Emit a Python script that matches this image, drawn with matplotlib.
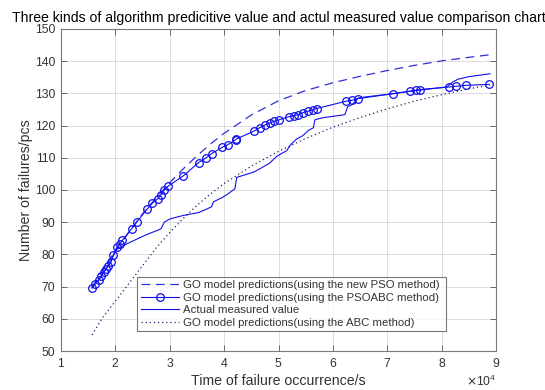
import matplotlib
matplotlib.use("Agg")
import matplotlib.pyplot as plt
import numpy as np
from matplotlib.ticker import ScalarFormatter

plt.rcParams['font.family'] = ['Liberation Sans', 'DejaVu Sans']

title = "Three kinds of algorithm predicitive value and actul measured value comparison chart"
xlabel = "Time of failure occurrence/s"
ylabel = "Number of failures/pcs"
legend_labels = [
    "GO model predictions(using the new PSO method)",
    "GO model predictions(using the PSOABC method)",
    "Actual measured value",
    "GO model predictions(using the ABC method)",
]

# times in units of 1e4 s
pso_t = [1.57, 2.00, 2.50, 2.75, 3.00, 3.25, 3.50, 3.75, 4.00, 4.50, 5.00, 5.50,
         6.00, 6.50, 7.00, 7.50, 8.00, 8.50, 8.89]
pso_v = [69.8, 81.2, 92.6, 97.6, 102.3, 106.6, 110.6, 114.3, 117.6, 123.3, 127.7, 130.9,
         133.3, 135.3, 137.1, 138.7, 140.1, 141.2, 142.0]

psoabc_t = [1.57, 1.62, 1.70, 1.74, 1.79, 1.83, 1.87, 1.92, 1.96, 2.03, 2.08, 2.13,
            2.30, 2.40, 2.58, 2.68, 2.78, 2.84, 2.90, 2.97, 3.25, 3.53, 3.67, 3.77,
            3.97, 4.07, 4.21, 4.22, 4.55, 4.66, 4.75, 4.84, 4.92, 5.01, 5.20, 5.28,
            5.36, 5.45, 5.55, 5.64, 5.70, 6.25, 6.36, 6.47, 7.10, 7.42, 7.53, 7.60,
            8.14, 8.26, 8.44, 8.87]
psoabc_v = [69.6, 70.8, 72.2, 73.3, 74.6, 75.5, 76.5, 77.5, 79.8, 82.2, 83.3, 84.4,
            88.0, 90.2, 94.0, 95.9, 97.3, 98.6, 100.0, 101.2, 104.4, 108.5, 110.0, 111.3,
            113.3, 114.1, 115.6, 115.8, 118.3, 119.4, 120.2, 120.8, 121.3, 121.8, 122.8, 123.1,
            123.4, 124.0, 124.5, 125.0, 125.3, 127.6, 127.9, 128.4, 129.9, 130.7, 131.0, 131.2,
            132.0, 132.2, 132.5, 132.8]

actual_t = [1.57, 1.70, 1.83, 1.96, 2.03, 2.13, 2.30, 2.58, 2.78, 2.84, 2.90, 3.00,
            3.25, 3.53, 3.67, 3.77, 3.80, 3.97, 4.07, 4.20, 4.23, 4.40, 4.55, 4.66,
            4.84, 4.97, 5.15, 5.22, 5.33, 5.45, 5.55, 5.64, 5.67, 5.80, 6.22, 6.27,
            6.36, 6.47, 6.60, 7.10, 7.53, 8.10, 8.20, 8.30, 8.50, 8.89]
actual_v = [69.6, 72.2, 75.5, 79.5, 81.6, 82.6, 84.0, 86.2, 87.5, 88.0, 90.0, 91.0,
            92.1, 93.0, 94.0, 94.8, 96.3, 97.7, 98.8, 100.4, 103.9, 104.8, 105.6, 106.6,
            108.4, 110.5, 112.2, 114.0, 115.8, 116.9, 118.5, 119.3, 121.8, 122.4, 123.4, 125.8,
            126.6, 128.6, 128.9, 129.9, 130.9, 132.0, 133.5, 134.4, 135.2, 136.1]

abc_t = [1.57, 1.75, 2.00, 2.25, 2.50, 2.75, 3.00, 3.25, 3.50, 3.75, 4.00, 4.50,
         5.00, 5.50, 6.00, 6.50, 7.00, 7.50, 8.00, 8.50, 8.89]
abc_v = [55.0, 60.0, 65.5, 71.0, 76.5, 82.0, 86.8, 91.2, 95.2, 98.8, 102.0, 107.4,
         112.0, 116.0, 119.5, 122.5, 125.2, 127.6, 129.6, 131.4, 132.6]

xticks = [1, 2, 3, 4, 5, 6, 7, 8, 9]
yticks = [50, 60, 70, 80, 90, 100, 110, 120, 130, 140, 150]
scale = 1e4

fig = plt.figure(figsize=(5.45, 3.9), dpi=100)
ax = fig.add_axes([61/545, 39/390, 435/545, 322/390])

blue = '#1010ee'
lw = 0.8
ax.plot(np.array(pso_t)*scale, pso_v, color='#3030d8', lw=0.9, dashes=(7, 4.5), label=legend_labels[0])
ax.plot(np.array(psoabc_t)*scale, psoabc_v, color=blue, lw=lw, marker='o', markersize=5.5,
        markerfacecolor='none', markeredgewidth=0.9, label=legend_labels[1])
ax.plot(np.array(actual_t)*scale, actual_v, color=blue, lw=lw, label=legend_labels[2])
ax.plot(np.array(abc_t)*scale, abc_v, color='#202070', lw=0.9, dashes=(1, 2.3), label=legend_labels[3])

ax.set_xlim(1*scale, 9*scale)
ax.set_ylim(50, 150)
ax.set_xticks(np.array(xticks)*scale)
ax.set_yticks(yticks)
fmt = ScalarFormatter(useMathText=True)
fmt.set_powerlimits((4, 4))
ax.xaxis.set_major_formatter(fmt)

tc = '#333333'
ax.grid(True, color='#dcdcdc', lw=0.7)
ax.set_axisbelow(True)
for s in ax.spines.values():
    s.set_color('#7a7a7a')
    s.set_linewidth(0.8)
ax.tick_params(direction='in', length=4, width=0.6, colors='#555555', labelcolor=tc,
               labelsize=8.7, top=True, right=True, pad=4)
ax.xaxis.get_offset_text().set_fontsize(8.7)
ax.xaxis.get_offset_text().set_color(tc)

ax.set_xlabel(xlabel, fontsize=10.2, color=tc, labelpad=3)
ax.set_ylabel(ylabel, fontsize=10.2, color=tc, labelpad=1.5)
ax.set_title(title, fontsize=10.1, color='black', pad=5)

leg = ax.legend(loc='lower left', bbox_to_anchor=(0.175, 0.062, 0.71, 0.192), mode='expand',
                fontsize=8.2, frameon=True, fancybox=False, borderaxespad=0,
                handlelength=3.4, handletextpad=0.3, labelspacing=0.22, borderpad=0.3)
leg.get_frame().set_edgecolor('#555555')
leg.get_frame().set_linewidth(0.8)
for t in leg.get_texts():
    t.set_color(tc)

fig.savefig('out.png', dpi=100)
